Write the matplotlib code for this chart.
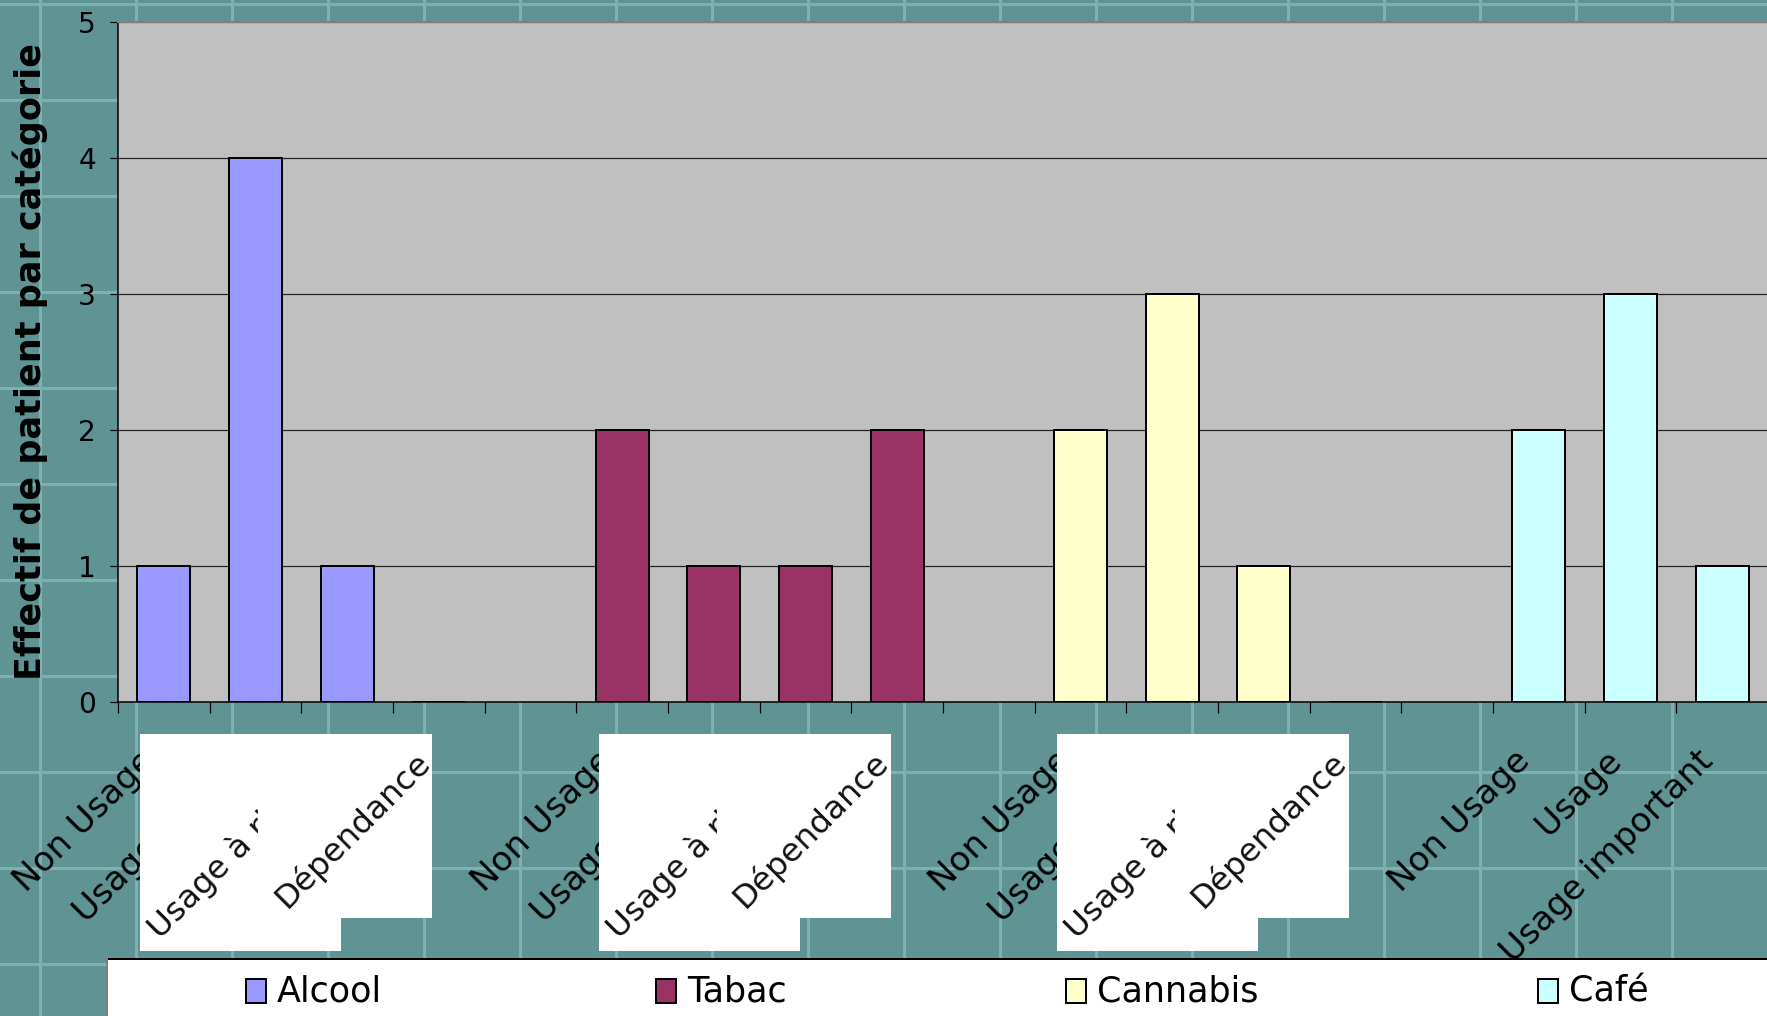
import matplotlib
matplotlib.use("Agg")
import matplotlib.pyplot as plt
from matplotlib.patches import Rectangle
from matplotlib.lines import Line2D
from matplotlib.text import Text
from matplotlib.transforms import blended_transform_factory, ScaledTranslation
import numpy as np

# ---- data -------------------------------------------------------------
stages = ["Non Usage", "Usage simple", "Usage à risque", "Dépendance", ""]
cafe_stages = ["Non Usage", "Usage", "Usage important"]
categories = stages * 3 + cafe_stages
series_names = ["Alcool", "Tabac", "Cannabis", "Café"]
alcool = [1, 4, 1, 0]
tabac = [2, 1, 1, 2]
cannabis = [2, 3, 1, 0]
cafe = [2, 3, 1]
group_start = [0, 5, 10, 15]          # first category of each substance
y_ticks = [0, 1, 2, 3, 4, 5]
y_label = "Effectif de patient par catégorie"
card_labels = ["Usage à risque", "Dépendance"]

# ---- style ------------------------------------------------------------
colors = ["#9999FF", "#993366", "#FFFFCC", "#CCFFFF"]
teal = "#609494"
teal_grid = "#7DB2B2"
W, H, DPI = 1767, 1016, 100
PX = 72.0 / DPI  # points per pixel

plt.rcParams["font.family"] = ["DejaVu Sans"]

fig = plt.figure(figsize=(W / DPI, H / DPI), dpi=DPI, facecolor=teal)


def fy(py):
    return 1 - py / H


# graph-paper background
for x in range(40, W, 96):
    fig.add_artist(Line2D([x / W, x / W], [0, 1], color=teal_grid, lw=3 * PX, zorder=-5))
for y in range(4, H, 96):
    fig.add_artist(Line2D([0, 1], [fy(y), fy(y)], color=teal_grid, lw=3 * PX, zorder=-5))

ax = fig.add_axes([118 / W, fy(702), 1650 / W, 680 / H])
ax.set_facecolor("#C0C0C0")

series_values = [alcool, tabac, cannabis, cafe]
for name, vals, start, col in zip(series_names, series_values, group_start, colors):
    xs = np.arange(start, start + len(vals))
    ax.bar(xs, vals, width=0.58, color=col, edgecolor="black", linewidth=2 * PX,
           label=name, zorder=3)

ax.set_xlim(-0.5, len(categories) - 0.5)
ax.set_ylim(0, 5)
ax.set_yticks(y_ticks)
ax.set_yticklabels([str(v) for v in y_ticks], fontsize=28 * PX)
ax.tick_params(axis="y", length=8 * PX, width=1.2 * PX, pad=14 * PX, direction="out")
ax.yaxis.grid(True, color="#222222", lw=1.2 * PX, zorder=1)
ax.set_axisbelow(True)

ax.set_xticks(np.arange(len(categories)))
ax.set_xticklabels(categories, rotation=45, ha="right", va="top",
                   rotation_mode="anchor", fontsize=34 * PX)
ax.tick_params(axis="x", which="major", length=0, pad=42 * PX)
ax.set_xticks(np.arange(len(categories) + 1) - 0.5, minor=True)
ax.tick_params(axis="x", which="minor", length=11 * PX, width=1.2 * PX, direction="out")
shift = ScaledTranslation(-26 / DPI, 0, fig.dpi_scale_trans)
for lab in ax.get_xticklabels():
    lab.set_transform(lab.get_transform() + shift)

for s in ["left", "bottom"]:
    ax.spines[s].set_color("black")
    ax.spines[s].set_linewidth(1.5 * PX)
ax.spines["top"].set_color("#808080")
ax.spines["top"].set_linewidth(2 * PX)
ax.spines["right"].set_visible(False)

fig.text(30 / W, fy(362), y_label, rotation=90, ha="center", va="center",
         fontsize=35 * PX, fontweight="bold")

# pasted label cards over the first three groups
tr = blended_transform_factory(ax.transData, fig.transFigure)
cat_w = 1650 / len(categories)  # pixels per category
for start in group_start[:3]:
    x0 = start - 0.255
    pA = Rectangle((x0, fy(951)), 201 / cat_w, (951 - 734) / H, transform=tr,
                   facecolor="white", edgecolor="none", zorder=2)
    fig.add_artist(pA)
    tA = Text(x0 + 20 / cat_w, fy(940), card_labels[0], rotation=45,
              rotation_mode="anchor", ha="left", va="baseline",
              fontsize=32.5 * PX, transform=tr, zorder=3, color="#111111")
    fig.add_artist(tA)
    tA.set_clip_path(pA)
    pB = Rectangle((x0 + 118 / cat_w, fy(918)), 174 / cat_w, (918 - 734) / H,
                   transform=tr, facecolor="white", edgecolor="none", zorder=4)
    fig.add_artist(pB)
    fig.add_artist(Text(x0 + 146 / cat_w, fy(909), card_labels[1], rotation=45,
                        rotation_mode="anchor", ha="left", va="baseline",
                        fontsize=32.5 * PX, transform=tr, zorder=5, color="#111111"))

# legend strip
fig.add_artist(Rectangle((107 / W, 0), 1, fy(959), transform=fig.transFigure,
                         facecolor="white", edgecolor="none", zorder=6))
fig.add_artist(Line2D([107 / W, 1], [fy(959), fy(959)], color="black", lw=2 * PX, zorder=7))
fig.add_artist(Line2D([107 / W, 107 / W], [0, fy(959)], color="#808080", lw=2 * PX, zorder=7))
leg_x = [246, 656, 1066, 1538]
for name, col, lx in zip(series_names, colors, leg_x):
    fig.add_artist(Rectangle((lx / W, fy(1003)), 20 / W, 24 / H, transform=fig.transFigure,
                             facecolor=col, edgecolor="black", lw=2 * PX, zorder=7))
    fig.text((lx + 31) / W, fy(991), name, ha="left", va="center",
             fontsize=35 * PX, zorder=7)

fig.savefig("out.png", dpi=DPI, facecolor=teal)
